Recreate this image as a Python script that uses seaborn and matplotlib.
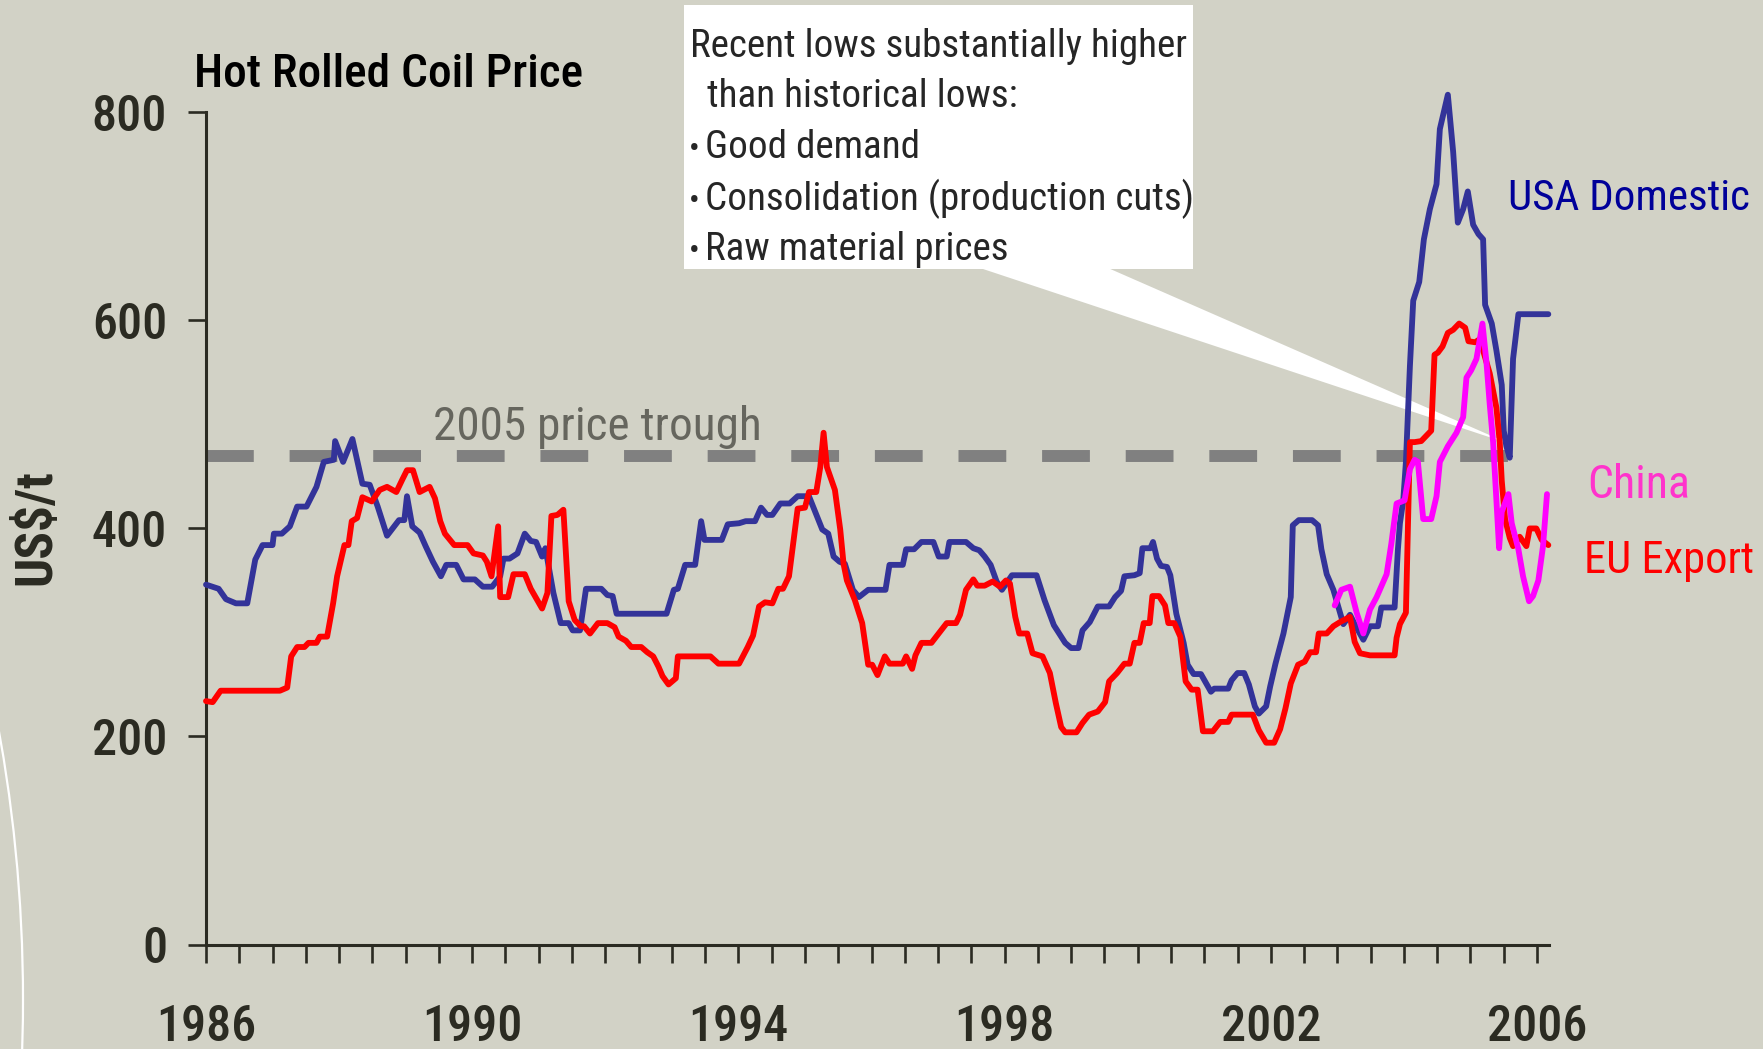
import numpy as np
import pandas as pd
import matplotlib
matplotlib.use("Agg")
import matplotlib.pyplot as plt
from matplotlib.patches import Rectangle, Polygon, Ellipse
import seaborn as sns

# Datos (anio decimal, US$/t)
usa_year = [1986.00, 1986.19, 1986.30, 1986.45, 1986.62, 1986.74, 1986.85, 1987.00, 1987.02, 1987.14,
            1987.26, 1987.37, 1987.51, 1987.66, 1987.77, 1987.92, 1987.94, 1988.06, 1988.20, 1988.35,
            1988.46, 1988.58, 1988.72, 1988.90, 1988.98, 1989.02, 1989.10, 1989.21, 1989.30, 1989.41,
            1989.53, 1989.61, 1989.76, 1989.87, 1990.04, 1990.16, 1990.30, 1990.42, 1990.47, 1990.56,
            1990.68, 1990.79, 1990.88, 1990.96, 1991.05, 1991.10, 1991.22, 1991.33, 1991.45, 1991.51,
            1991.62, 1991.71, 1991.94, 1992.03, 1992.11, 1992.17, 1992.92, 1993.03, 1993.09, 1993.20,
            1993.35, 1993.44, 1993.49, 1993.75, 1993.84, 1994.01, 1994.11, 1994.25, 1994.34, 1994.43,
            1994.51, 1994.63, 1994.77, 1994.89, 1995.06, 1995.26, 1995.35, 1995.43, 1995.52, 1995.60,
            1995.72, 1995.81, 1995.95, 1996.21, 1996.27, 1996.47, 1996.52, 1996.64, 1996.75, 1996.93,
            1997.01, 1997.13, 1997.17, 1997.42, 1997.53, 1997.62, 1997.70, 1997.79, 1997.88, 1997.96,
            1998.11, 1998.48, 1998.60, 1998.74, 1998.82, 1998.91, 1999.00, 1999.11, 1999.17, 1999.28,
            1999.40, 1999.57, 1999.66, 1999.75, 1999.80, 1999.95, 2000.03, 2000.07, 2000.19, 2000.23,
            2000.29, 2000.35, 2000.44, 2000.49, 2000.58, 2000.69, 2000.75, 2000.84, 2000.95, 2001.10,
            2001.15, 2001.36, 2001.41, 2001.50, 2001.60, 2001.67, 2001.76, 2001.82, 2001.93, 2001.99,
            2002.07, 2002.19, 2002.30, 2002.33, 2002.42, 2002.62, 2002.71, 2002.76, 2002.84, 2002.94,
            2003.04, 2003.09, 2003.19, 2003.26, 2003.39, 2003.49, 2003.61, 2003.66, 2003.86, 2003.91,
            2003.94, 2003.99, 2004.03, 2004.09, 2004.14, 2004.23, 2004.30, 2004.39, 2004.49, 2004.54,
            2004.66, 2004.74, 2004.81, 2004.89, 2004.96, 2005.04, 2005.12, 2005.19, 2005.22, 2005.32,
            2005.39, 2005.47, 2005.50, 2005.54, 2005.59, 2005.64, 2005.72, 2006.17]
usa_price = [346, 342, 332, 328, 328, 370, 384, 384, 395, 395,
             402, 421, 421, 440, 464, 466, 484, 464, 486, 443,
             442, 421, 393, 408, 408, 431, 402, 396, 383, 368,
             354, 365, 365, 351, 351, 344, 344, 354, 371, 371,
             376, 395, 388, 387, 373, 381, 338, 309, 309, 302,
             302, 342, 342, 336, 335, 318, 318, 341, 342, 365,
             365, 407, 389, 389, 404, 405, 407, 407, 420, 413,
             413, 424, 424, 431, 431, 399, 395, 373, 368, 366,
             341, 334, 341, 341, 365, 365, 380, 380, 387, 387,
             373, 373, 387, 387, 381, 379, 373, 365, 349, 341,
             355, 355, 331, 307, 299, 290, 285, 285, 302, 310,
             325, 325, 334, 340, 354, 355, 357, 381, 381, 387,
             371, 364, 363, 355, 318, 290, 269, 260, 260, 243,
             246, 246, 254, 261, 261, 250, 229, 222, 229, 248,
             270, 299, 334, 403, 408, 408, 403, 380, 356, 341,
             319, 308, 317, 308, 293, 306, 306, 324, 324, 380,
             405, 427, 464, 556, 619, 637, 678, 707, 731, 784,
             817, 762, 694, 707, 724, 692, 683, 678, 615, 597,
             571, 538, 494, 479, 468, 563, 606, 606]

eu_year = [1986.00, 1986.10, 1986.22, 1987.11, 1987.22, 1987.28, 1987.37, 1987.48, 1987.54, 1987.66,
           1987.71, 1987.82, 1987.91, 1987.97, 1988.08, 1988.14, 1988.19, 1988.27, 1988.35, 1988.49,
           1988.61, 1988.72, 1988.86, 1988.95, 1989.02, 1989.11, 1989.21, 1989.36, 1989.44, 1989.52,
           1989.59, 1989.73, 1989.93, 1990.02, 1990.16, 1990.22, 1990.29, 1990.39, 1990.42, 1990.54,
           1990.62, 1990.79, 1990.88, 1991.05, 1991.13, 1991.19, 1991.28, 1991.37, 1991.45, 1991.54,
           1991.63, 1991.68, 1991.77, 1991.89, 1992.03, 1992.14, 1992.20, 1992.31, 1992.39, 1992.54,
           1992.63, 1992.72, 1992.80, 1992.86, 1992.95, 1993.06, 1993.09, 1993.58, 1993.70, 1994.01,
           1994.14, 1994.22, 1994.31, 1994.40, 1994.51, 1994.60, 1994.67, 1994.76, 1994.89, 1995.00,
           1995.06, 1995.17, 1995.23, 1995.28, 1995.33, 1995.45, 1995.53, 1995.58, 1995.63, 1995.75,
           1995.86, 1995.95, 1996.01, 1996.09, 1996.20, 1996.27, 1996.47, 1996.52, 1996.61, 1996.66,
           1996.75, 1996.90, 1997.13, 1997.27, 1997.33, 1997.42, 1997.53, 1997.59, 1997.70, 1997.82,
           1997.93, 1998.02, 1998.08, 1998.16, 1998.22, 1998.34, 1998.42, 1998.57, 1998.68, 1998.77,
           1998.85, 1998.91, 1999.08, 1999.17, 1999.27, 1999.40, 1999.51, 1999.57, 1999.69, 1999.80,
           1999.88, 1999.95, 2000.03, 2000.09, 2000.18, 2000.22, 2000.32, 2000.41, 2000.46, 2000.55,
           2000.64, 2000.72, 2000.81, 2000.90, 2000.98, 2001.13, 2001.24, 2001.36, 2001.41, 2001.73,
           2001.82, 2001.93, 2002.05, 2002.14, 2002.22, 2002.30, 2002.41, 2002.51, 2002.59, 2002.68,
           2002.72, 2002.84, 2002.94, 2003.04, 2003.19, 2003.26, 2003.34, 2003.49, 2003.86, 2003.89,
           2003.94, 2004.03, 2004.09, 2004.16, 2004.26, 2004.41, 2004.46, 2004.51, 2004.58, 2004.66,
           2004.74, 2004.83, 2004.92, 2004.97, 2005.07, 2005.14, 2005.29, 2005.39, 2005.44, 2005.47,
           2005.52, 2005.59, 2005.64, 2005.74, 2005.84, 2005.89, 2005.99, 2006.07, 2006.17]
eu_price = [234, 233, 244, 244, 247, 277, 286, 286, 290, 290,
            296, 296, 328, 354, 384, 384, 407, 410, 430, 426,
            437, 440, 435, 447, 456, 456, 435, 440, 429, 407,
            395, 384, 384, 376, 374, 368, 354, 402, 334, 334,
            356, 356, 342, 323, 338, 412, 413, 418, 330, 312,
            306, 306, 299, 309, 309, 305, 296, 292, 286, 286,
            281, 277, 267, 258, 250, 256, 277, 277, 270, 270,
            286, 297, 325, 329, 328, 342, 342, 354, 419, 420,
            435, 435, 459, 492, 459, 437, 399, 366, 350, 331,
            309, 269, 269, 259, 277, 270, 270, 277, 265, 278,
            290, 290, 309, 309, 317, 341, 351, 345, 345, 349,
            344, 350, 347, 315, 299, 299, 280, 277, 261, 232,
            209, 204, 204, 213, 221, 224, 233, 253, 261, 270,
            270, 290, 290, 309, 309, 335, 335, 326, 309, 309,
            296, 253, 245, 245, 205, 205, 214, 214, 221, 221,
            206, 194, 194, 207, 227, 251, 269, 272, 281, 281,
            299, 299, 306, 310, 315, 291, 280, 278, 278, 295,
            308, 319, 483, 483, 484, 494, 567, 569, 575, 588,
            591, 597, 593, 580, 579, 582, 549, 516, 483, 446,
            409, 391, 383, 392, 383, 400, 400, 389, 384]

china_year = [2002.96, 2003.06, 2003.19, 2003.29, 2003.39, 2003.49, 2003.59, 2003.74, 2003.81, 2003.89,
              2004.01, 2004.09, 2004.16, 2004.21, 2004.29, 2004.41, 2004.49, 2004.54, 2004.66, 2004.79,
              2004.89, 2004.94, 2005.01, 2005.09, 2005.18, 2005.24, 2005.29, 2005.34, 2005.39, 2005.43,
              2005.47, 2005.57, 2005.62, 2005.72, 2005.79, 2005.88, 2005.94, 2006.02, 2006.09, 2006.15]
china_price = [326, 341, 344, 319, 299, 322, 334, 356, 385, 424,
               427, 457, 466, 464, 409, 409, 431, 464, 479, 492,
               507, 545, 552, 563, 597, 560, 519, 483, 427, 381,
               416, 433, 405, 380, 354, 330, 335, 350, 383, 433]

trough_price = 470
trough_span = [1986.0, 2005.63]

year_labels = [1986, 1990, 1994, 1998, 2002, 2006]
price_ticks = [0, 200, 400, 600, 800]

note_lines = ["Recent lows substantially higher", "than historical lows:",
              "Good demand", "Consolidation (production cuts)", "Raw material prices"]

# Estilo
bg = "#D2D2C6"
ink = "#2B2B22"
sns.set_style("ticks")
plt.rcParams["font.family"] = ["Roboto Condensed", "Archivo Narrow", "DejaVu Sans"]

W, H = 1763, 1049
fig = plt.figure(figsize=(W / 100, H / 100), dpi=100, facecolor=bg)


def px(x, y):
    # pixeles de la figura -> fraccion de figura
    return x / W, 1 - y / H


ax = fig.add_axes([206 / W, 1 - 944.5 / H, (1549 - 206) / W, (944.5 - 112.4) / H])
ax.set_facecolor("none")

# Arco blanco decorativo a la izquierda
R = 1515
fig.add_artist(Ellipse(px(23 - R, 1000), 2 * R / W, 2 * R / H, transform=fig.transFigure,
                       fill=False, edgecolor="white", lw=1.6, zorder=-3))

# Cuadro de texto con flecha
fig.add_artist(Rectangle(px(684, 269), (1193 - 684) / W, (269 - 5) / H, transform=fig.transFigure,
                         facecolor="white", edgecolor="none", zorder=-1))
fig.add_artist(Polygon([px(980, 268), px(1108, 268), px(1510, 444)], closed=True,
                       transform=fig.transFigure, facecolor="white", edgecolor="none", zorder=-1))

# Linea de referencia
ax.plot(trough_span, [trough_price, trough_price], color="#808080", lw=8.6,
        dashes=(4.0, 3.0), dash_capstyle="butt", zorder=1)
ax.text(1989.41, 485, "2005 price trough", color="#66665E", fontsize=34,
        ha="left", va="baseline", zorder=1)

# Series
df_usa = pd.DataFrame({"anio": usa_year, "precio": usa_price})
df_eu = pd.DataFrame({"anio": eu_year, "precio": eu_price})
df_china = pd.DataFrame({"anio": china_year, "precio": china_price})

sns.lineplot(data=df_usa, x="anio", y="precio", color="#333399", lw=4.2, ax=ax,
             estimator=None, sort=False, zorder=3, clip_on=False)
sns.lineplot(data=df_eu, x="anio", y="precio", color="#FF0000", lw=4.2, ax=ax,
             estimator=None, sort=False, zorder=4, clip_on=False)
sns.lineplot(data=df_china, x="anio", y="precio", color="#FF00FF", lw=4.2, ax=ax,
             estimator=None, sort=False, zorder=5, clip_on=False)

# Ejes
ax.set_xlim(1986, 2006.18)
ax.set_ylim(0, 800)
ax.set_xticks(year_labels)
ax.set_xticklabels([str(y) for y in year_labels])
ax.set_xticks(np.arange(1986, 2006.01, 0.5), minor=True)
ax.set_yticks(price_ticks)
ax.set_yticklabels([str(p) for p in price_ticks])
ax.set_xlabel("")
ax.set_ylabel("")
for side in ["top", "right"]:
    ax.spines[side].set_visible(False)
for side in ["left", "bottom"]:
    ax.spines[side].set_color(ink)
    ax.spines[side].set_linewidth(2.2)
ax.tick_params(axis="both", which="both", direction="out", length=13, width=1.9, color=ink,
               labelcolor=ink, labelsize=36)
ax.tick_params(axis="x", which="both", pad=30)
ax.tick_params(axis="y", pad=15)
for lab in ax.get_xticklabels() + ax.get_yticklabels():
    lab.set_fontweight(500)

# Textos
fig.text(*px(194, 87), "Hot Rolled Coil Price", fontsize=34, fontweight=500, color="black",
         ha="left", va="baseline")
fig.text(*px(36, 527), "US$/t", fontsize=37, fontweight="bold", color=ink, rotation=90,
         ha="center", va="center")

baselines = [57, 107, 158, 210, 260]
fig.text(*px(690, baselines[0]), note_lines[0], fontsize=28.2, ha="left", va="baseline")
fig.text(*px(707, baselines[1]), note_lines[1], fontsize=28.2, ha="left", va="baseline")
for line, yb in zip(note_lines[2:], baselines[2:]):
    fig.text(*px(689, yb), "\u2022", fontsize=23, ha="left", va="baseline")
    fig.text(*px(705, yb), line, fontsize=28.2, ha="left", va="baseline")

fig.text(*px(1508, 198), "USA Domestic", fontsize=31, color="#000099", ha="left", va="center")
fig.text(*px(1587, 485), "China", fontsize=33, color="#FF33CC", ha="left", va="center")
fig.text(*px(1584, 561), "EU Export", fontsize=32, color="#FF0000", ha="left", va="center")

fig.savefig("out.png", dpi=100, facecolor=bg)
